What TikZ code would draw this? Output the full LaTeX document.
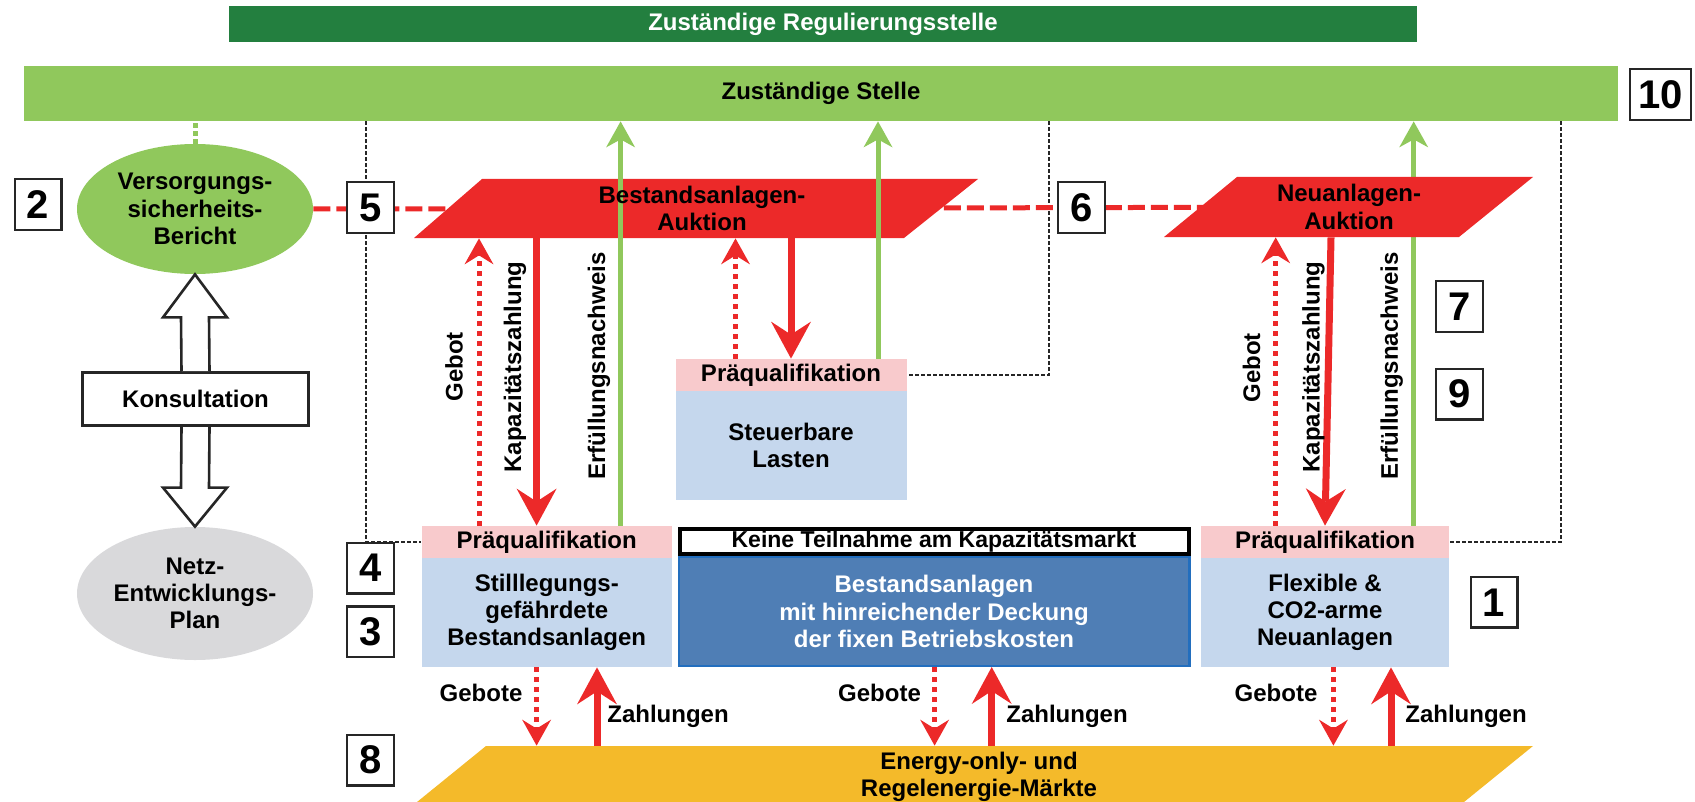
\documentclass[tikz,border=0pt]{standalone}
\usepackage{fontspec}
\setmainfont{Liberation Sans}
\usetikzlibrary{arrows.meta,shapes.geometric,calc}
\definecolor{dkgreen}{RGB}{35,127,63}
\definecolor{ltgreen}{RGB}{144,200,92}
\definecolor{redc}{RGB}{236,41,41}
\definecolor{pinkc}{RGB}{248,202,204}
\definecolor{ltblue}{RGB}{197,215,237}
\definecolor{dkblue}{RGB}{79,126,181}
\definecolor{dkblueb}{RGB}{34,110,190}
\definecolor{goldc}{RGB}{244,186,42}
\definecolor{grayc}{RGB}{217,217,219}
\pgfdeclarelayer{bg}
\pgfsetlayers{bg,main}
\begin{document}
\begin{tikzpicture}[x=0.5pt,y=-0.5pt,
  every node/.style={font=\bfseries\fontsize{12}{13.6}\selectfont, inner sep=0pt},
  numbox/.style={draw=black!85, line width=1.2pt, fill=white, minimum width=23.3pt, minimum height=25.3pt, font=\bfseries\fontsize{20}{20}\selectfont},
  pq/.style={fill=pinkc, minimum height=16pt},
  lb/.style={fill=ltblue, minimum height=54.5pt, align=center},
  kap/.style={draw=redc, line width=3.5pt, -{Stealth[length=18.5pt,width=20pt,inset=6.5pt,line width=0pt]}},
  geb/.style={draw=redc, line width=2.5pt, dash pattern=on 2.5pt off 2.5pt, -{Stealth[length=13pt,width=14.5pt,inset=4.5pt,line width=0pt]}},
  erf/.style={draw=ltgreen, line width=2.5pt, -{Stealth[length=13pt,width=14.5pt,inset=4pt,line width=0pt]}},
  linkdash/.style={draw=redc, line width=2.5pt, dash pattern=on 8.5pt off 3pt},
  guide/.style={draw=black!85, line width=0.6pt, dash pattern=on 2pt off 1pt},
  hollow/.style={draw=black!85, line width=1.3pt, fill=white, line join=miter},
]
\useasboundingbox (0,0) rectangle (1695,802);

% bars
\node[fill=dkgreen, text=white, minimum width=594pt, minimum height=18pt] (regul) at (823,24) {Zuständige Regulierungsstelle};
\node[fill=ltgreen, minimum width=797pt, minimum height=27.5pt] (stelle) at (821,93.5) {Zuständige Stelle};

% x positions of connectors
\coordinate (xd1) at (366,0);
\coordinate (xd2) at (1049,0);
\coordinate (xd3) at (1561,0);
\coordinate (xg1) at (479,0);
\coordinate (xk1) at (536.6,0);
\coordinate (xe1) at (620.6,0);
\coordinate (xg2) at (735.5,0);
\coordinate (xk2) at (791,0);
\coordinate (xe2) at (878,0);
\coordinate (xg3) at (1275.7,0);
\coordinate (xk3a) at (1331,0);
\coordinate (xk3b) at (1325,0);
\coordinate (xe3) at (1413.7,0);
\coordinate (xb1) at (536.6,0);
\coordinate (xz1) at (597,0);
\coordinate (xb2) at (934.6,0);
\coordinate (xz2) at (991.7,0);
\coordinate (xb3) at (1333.4,0);
\coordinate (xz3) at (1391,0);

% boxes
\node[pq, minimum width=125.25pt] (lpq) at (546.75,542) {Präqualifikation};
\node[lb, minimum width=125.25pt] (lbl) at (546.75,612.5) {Stilllegungs-\\gefährdete\\Bestandsanlagen};
\node[pq, minimum width=115.5pt] (spq) at (791,375) {Präqualifikation};
\node[lb, minimum width=115.5pt] (sbl) at (791,445.5) {Steuerbare\\Lasten};
\node[pq, minimum width=124pt] (rpq) at (1325,542) {Präqualifikation};
\node[lb, minimum width=124pt] (rbl) at (1325,612.5) {Flexible \&\\CO2-arme\\Neuanlagen};
\node[draw=black, line width=2pt, fill=white, minimum width=254.5pt, minimum height=12.5pt, font=\bfseries\fontsize{11.5}{13}\selectfont] (keine) at (934,541.5) {Keine Teilnahme am Kapazitätsmarkt};
\node[draw=dkblueb, line width=1.2pt, fill=dkblue, text=white, minimum width=255.3pt, minimum height=54.3pt, align=center] (dbl) at (934,611.5) {Bestandsanlagen\\mit hinreichender Deckung\\der fixen Betriebskosten};

% left column
\node[ellipse, fill=ltgreen, minimum width=118pt, minimum height=65pt, align=center] (vsb) at (195,209) {Versorgungs-\\sicherheits-\\Bericht};
\node[ellipse, fill=grayc, minimum width=118pt, minimum height=66.5pt] (netz) at (195,593.5) {};
\node[align=center] (netzt) at (netz.center) {Netz-\\Entwicklungs-\\Plan};
\node[draw=black!85, line width=1.5pt, fill=white, minimum width=113pt, minimum height=26.5pt] (konsult) at (195.5,399) {Konsultation};
\draw[hollow] ($(konsult.north)+(-14,0)$) -- ($(vsb.south)+(-14,43)$) -- ($(vsb.south)+(-32,43)$) -- (vsb.south) -- ($(vsb.south)+(32,43)$) -- ($(vsb.south)+(14,43)$) -- ($(konsult.north)+(14,0)$);
\draw[hollow] ($(konsult.south)+(-14,0)$) -- ($(netz.north)+(-14,-39)$) -- ($(netz.north)+(-32,-39)$) -- (netz.north) -- ($(netz.north)+(32,-39)$) -- ($(netz.north)+(14,-39)$) -- ($(konsult.south)+(14,0)$);

% parallelograms
\fill[redc] (414,238) -- (482,179) -- (978,179) -- (904,238) -- cycle;
\fill[redc] (1164,237) -- (1237,177) -- (1533,177) -- (1459,237) -- cycle;
\fill[goldc] (417,802) -- (486,746) -- (1533,746) -- (1464,802) -- cycle;

% green arrows over the first auction
\draw[erf] (xe1 |- lpq.north) -- (xe1 |- stelle.south);
\draw[erf] (xe2 |- spq.north) -- (xe2 |- stelle.south);

% auction texts
\node[minimum height=29.5pt, align=center] (ba) at (702,208.5) {Bestandsanlagen-\\Auktion};
\node[minimum height=30pt, align=center] (na) at (1349,207) {Neuanlagen-\\Auktion};
\node[minimum height=30.5pt, align=center] (en) at (979,776.5) {Energy-only- und\\Regelenergie-Märkte};

% background connectors
\begin{pgfonlayer}{bg}
\draw[guide] (xd1 |- stelle.south) |- (lpq.west);
\draw[guide] (xd2 |- stelle.south) |- (spq.east);
\draw[guide] (xd3 |- stelle.south) |- (rpq.east);
\draw[draw=ltgreen, line width=2.5pt, dash pattern=on 2.5pt off 1.5pt] (vsb.north) -- (vsb.north |- stelle.south);
\draw[linkdash] (vsb.east) -- (ba);
\draw[linkdash] (ba) -- (na);
\draw[erf] (xe3 |- rpq.north) -- (xe3 |- stelle.south);
\end{pgfonlayer}

% capacity payments and bids
\draw[kap] (xk1 |- ba.south) -- (xk1 |- lpq.north);
\draw[kap] (xk2 |- ba.south) -- (xk2 |- spq.north);
\draw[kap] (xk3a |- na.south) -- (xk3b |- rpq.north);
\draw[geb] (xg1 |- lpq.north) -- (xg1 |- ba.south);
\draw[geb] (xg2 |- spq.north) -- (xg2 |- ba.south);
\draw[geb] (xg3 |- rpq.north) -- (xg3 |- na.south);

% market arrows
\draw[geb] (xb1 |- lbl.south) -- (xb1 |- en.north);
\draw[kap] (xz1 |- en.north) -- (xz1 |- lbl.south);
\draw[geb] (xb2 |- dbl.south) -- (xb2 |- en.north);
\draw[kap] (xz2 |- en.north) -- (xz2 |- dbl.south);
\draw[geb] (xb3 |- rbl.south) -- (xb3 |- en.north);
\draw[kap] (xz3 |- en.north) -- (xz3 |- rbl.south);

% labels
\node[rotate=90] (lg1) at (454,367) {Gebot};
\node[rotate=90] (lk1) at (515,367) {Kapazitätszahlung};
\node[rotate=90] (le1) at (599,366) {Erfüllungsnachweis};
\node[rotate=90] (lg3) at (1251.5,368) {Gebot};
\node[rotate=90] (lk3) at (1313.5,367) {Kapazitätszahlung};
\node[rotate=90] (le3) at (1391.6,366) {Erfüllungsnachweis};
\node (bg1) at (481,693) {Gebote};
\node (bz1) at (668,716.5) {Zahlungen};
\node (bg2) at (879.5,693) {Gebote};
\node (bz2) at (1067,716.5) {Zahlungen};
\node (bg3) at (1276,693) {Gebote};
\node (bz3) at (1466,716.5) {Zahlungen};

% number boxes
\node[numbox, minimum width=30.3pt] (n10) at (1660.5,94.5) {10};
\node[numbox] (n2) at (38,204.5) {2};
\node[numbox] (n5) at (370.5,207.5) {5};
\node[numbox] (n6) at (1081.5,207.5) {6};
\node[numbox] (n7) at (1459.5,306.5) {7};
\node[numbox] (n9) at (1459.5,394) {9};
\node[numbox] (n4) at (370.5,568) {4};
\node[numbox] (n3) at (370.5,631.7) {3};
\node[numbox] (n8) at (370.5,760) {8};
\node[numbox] (n1) at (1494,602.3) {1};
\end{tikzpicture}
\end{document}
